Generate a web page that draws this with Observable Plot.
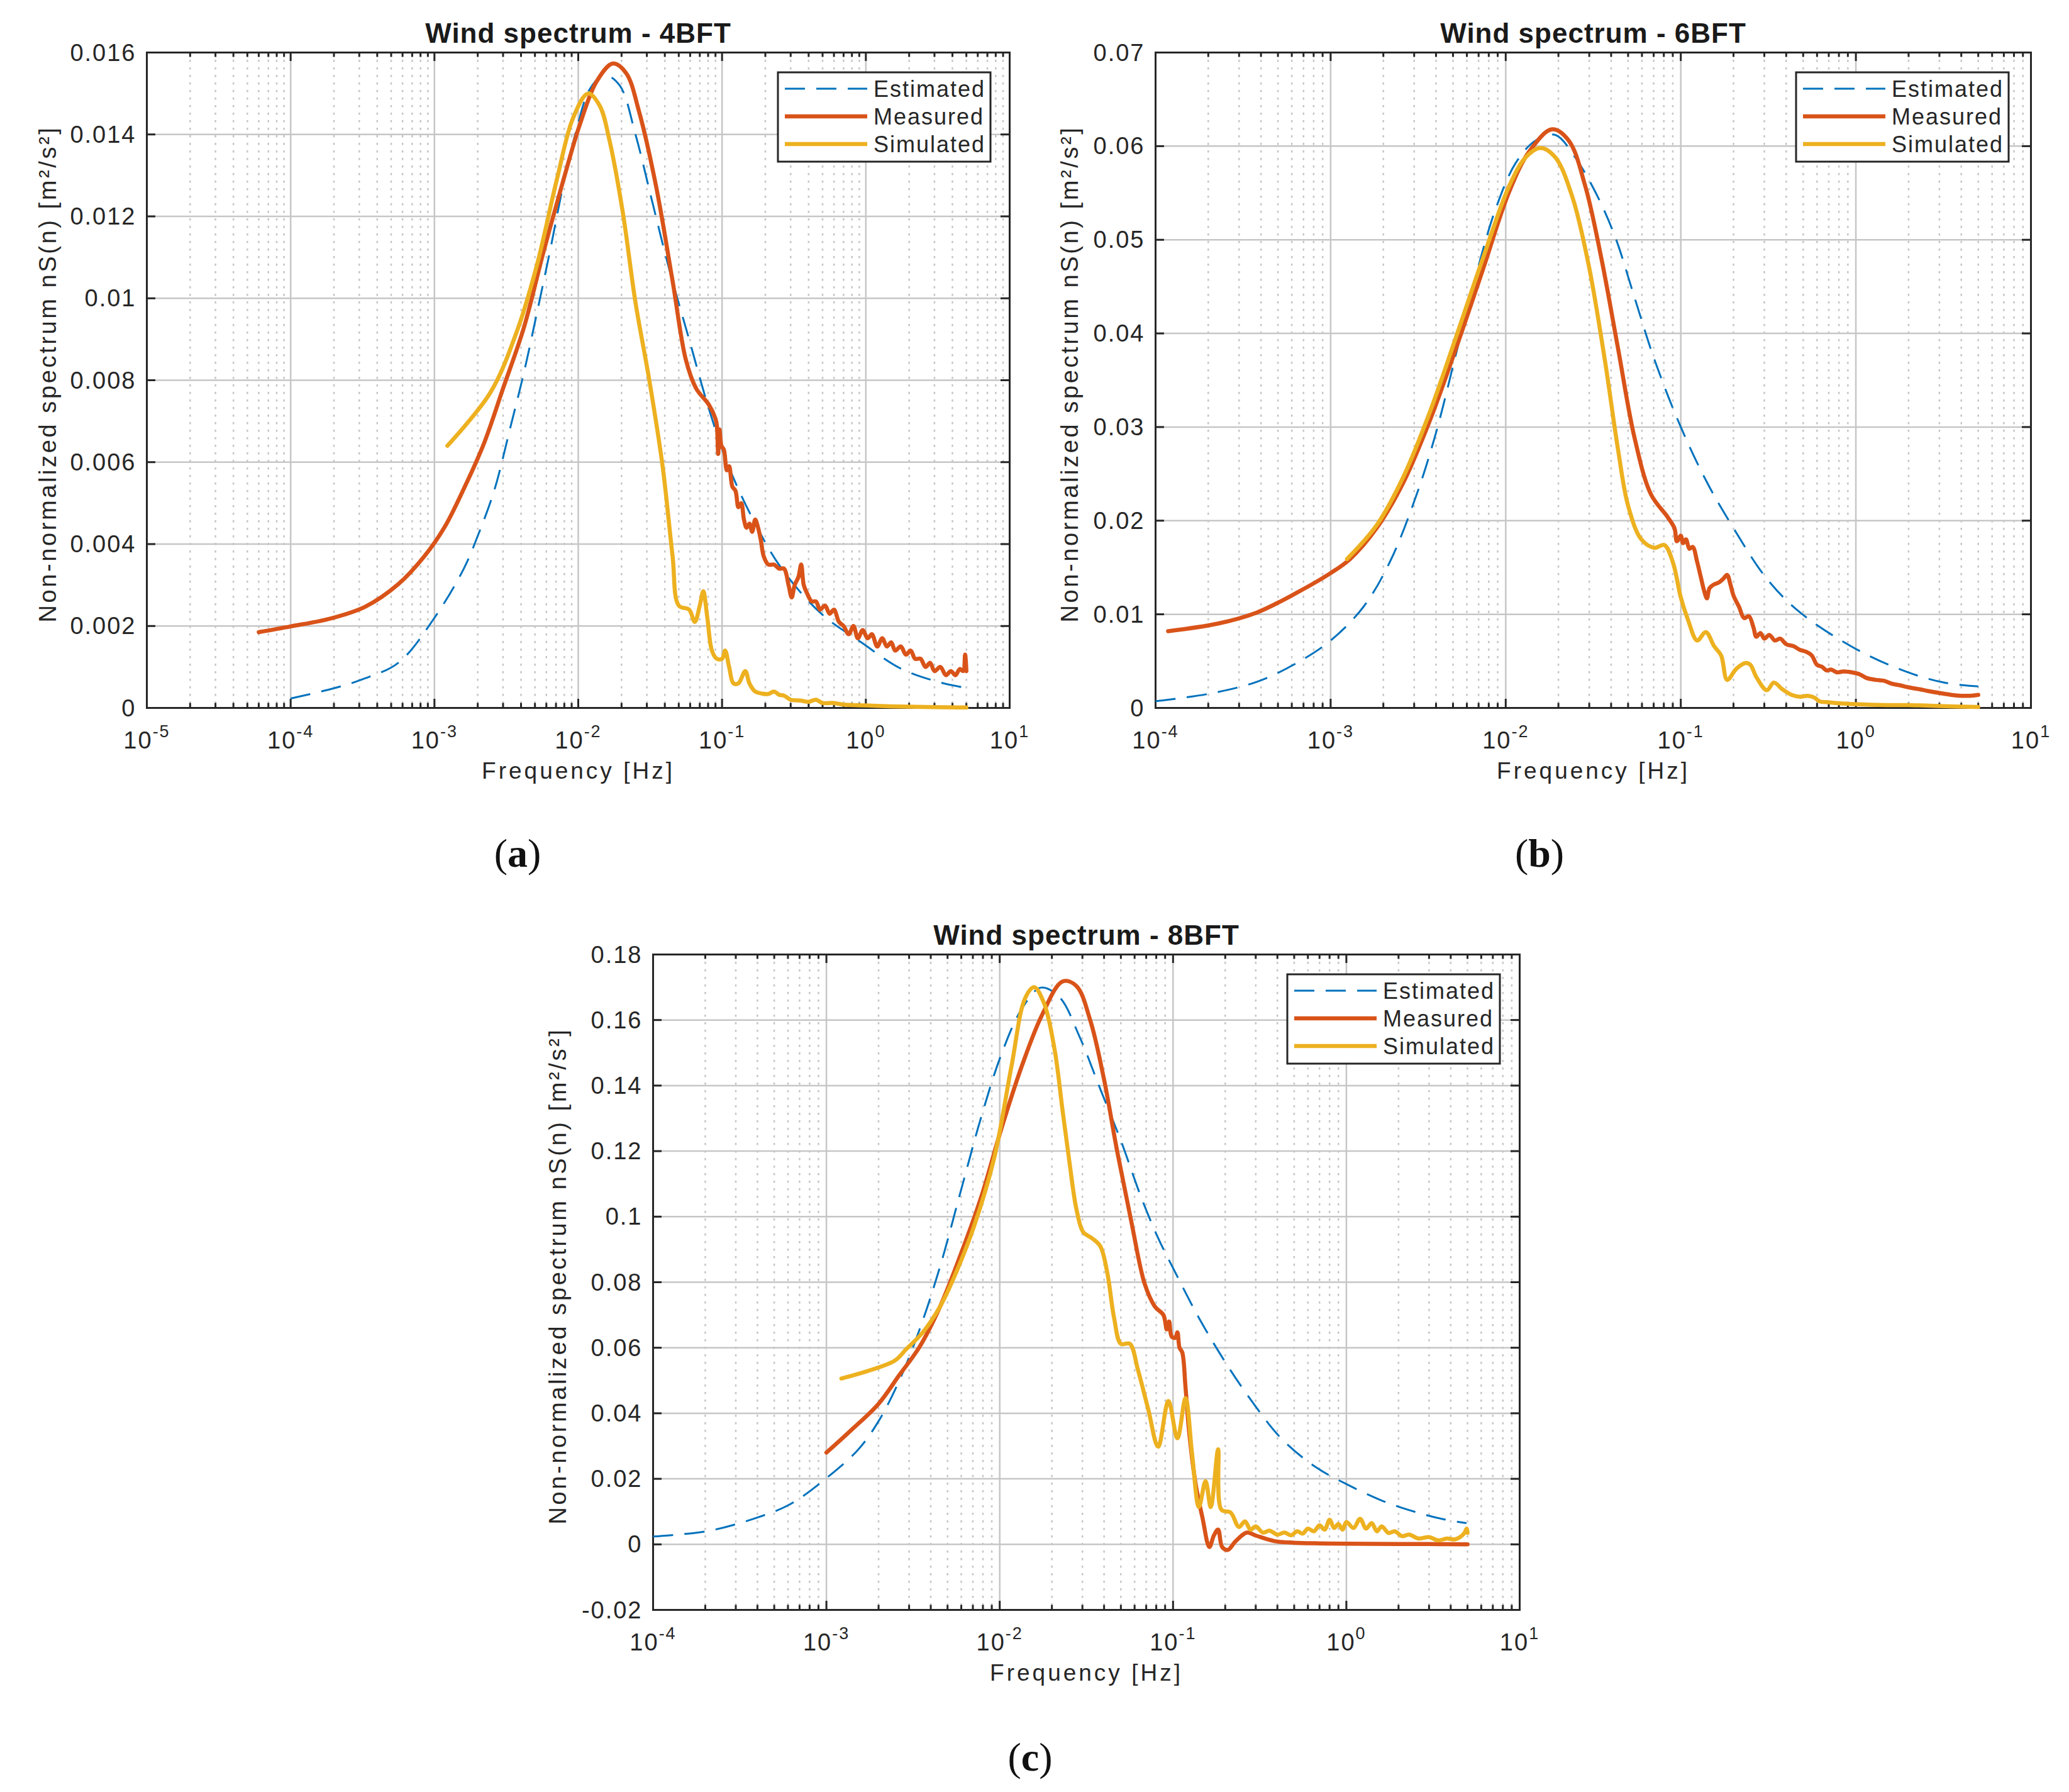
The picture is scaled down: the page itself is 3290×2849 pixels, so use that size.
<!DOCTYPE html>
<html><head><meta charset="utf-8">
<script src="https://cdn.jsdelivr.net/npm/d3@7"></script>
<script src="https://cdn.jsdelivr.net/npm/@observablehq/plot@0.6"></script>
<style>
html,body{margin:0;padding:0;background:#fff;}
#page{position:relative;width:3290px;height:2849px;overflow:hidden;background:#fff;font-family:"Liberation Sans",Arial,sans-serif;}
.panel{position:absolute;}
#overlay{position:absolute;left:0;top:0;}
</style></head><body><div id="page"></div>
<script>
// ---------------- DATA ----------------
const seriesNames = ["Estimated", "Measured", "Simulated"];
const titles = ["Wind spectrum - 4BFT", "Wind spectrum - 6BFT", "Wind spectrum - 8BFT"];
const captions = ["a", "b", "c"];
const xLabel = "Frequency [Hz]";
const yLabel = "Non-normalized spectrum nS(n) [m²/s²]";

const xTicksA = [1e-5, 1e-4, 1e-3, 1e-2, 1e-1, 1e0, 1e1];
const xTicksBC = [1e-4, 1e-3, 1e-2, 1e-1, 1e0, 1e1];
const yTicksA = [0, 0.002, 0.004, 0.006, 0.008, 0.01, 0.012, 0.014, 0.016];
const yTicksB = [0, 0.01, 0.02, 0.03, 0.04, 0.05, 0.06, 0.07];
const yTicksC = [-0.02, 0, 0.02, 0.04, 0.06, 0.08, 0.1, 0.12, 0.14, 0.16, 0.18];

// Panel (a) 4BFT  [frequency Hz, nS(n)]
const estimatedA = [[1e-4,0.00023],[2e-4,0.00048],[3.1e-4,0.00069],[5.6e-4,0.0011],[1e-3,0.0022],[1.6e-3,0.0034],[2e-3,0.0042],[2.6e-3,0.0053],[3.4e-3,0.0069],[4.2e-3,0.0082],[5.2e-3,0.0097],[6.4e-3,0.0112],[7.9e-3,0.0128],[9.7e-3,0.0141],[0.012,0.0151],[0.0152,0.01545],[0.0194,0.0152],[0.025,0.0140],[0.033,0.0123],[0.043,0.0107],[0.059,0.0090],[0.081,0.0073],[0.111,0.0059],[0.17,0.0045],[0.26,0.0034],[0.49,0.0023],[0.93,0.0016],[1.75,0.00096],[3.3,0.00062],[5,0.00049]];
const measuredA = [[6e-5,0.00185],[1e-4,0.00199],[1.93e-4,0.00219],[3.3e-4,0.00247],[5.6e-4,0.00302],[8.5e-4,0.0037],[1.17e-3,0.0044],[1.6e-3,0.00535],[2.2e-3,0.00644],[3e-3,0.0078],[4.2e-3,0.0093],[5.7e-3,0.0111],[7.9e-3,0.0129],[0.0103,0.01426],[0.0134,0.01529],[0.0174,0.01573],[0.0215,0.0155],[0.0266,0.01453],[0.0347,0.01275],[0.0453,0.01042],[0.056,0.0085],[0.066,0.0078],[0.081,0.0074],[0.09,0.00706],[0.092,0.0069],[0.094,0.0062],[0.096,0.0068],[0.099,0.0064],[0.103,0.0063],[0.108,0.0058],[0.112,0.0059],[0.118,0.0054],[0.124,0.0053],[0.13,0.0049],[0.136,0.0050],[0.142,0.0046],[0.148,0.0044],[0.155,0.0045],[0.162,0.0043],[0.17,0.0046],[0.178,0.0044],[0.186,0.0041],[0.195,0.0037],[0.21,0.0035],[0.23,0.0035],[0.25,0.0034],[0.27,0.0034],[0.29,0.0030],[0.305,0.0027],[0.32,0.0030],[0.34,0.0032],[0.355,0.0035],[0.37,0.0030],[0.39,0.0028],[0.42,0.0026],[0.45,0.0026],[0.48,0.0024],[0.52,0.0025],[0.56,0.0023],[0.6,0.0024],[0.65,0.0021],[0.7,0.0020],[0.76,0.0018],[0.82,0.0020],[0.88,0.0017],[0.95,0.0019],[1.03,0.0017],[1.1,0.0018],[1.2,0.0015],[1.3,0.0017],[1.4,0.0015],[1.5,0.0016],[1.6,0.0014],[1.75,0.0015],[1.9,0.0013],[2.05,0.0014],[2.2,0.0012],[2.4,0.0012],[2.6,0.0010],[2.8,0.0011],[3.0,0.0009],[3.3,0.0010],[3.6,0.0008],[3.9,0.0009],[4.2,0.0008],[4.5,0.00095],[4.75,0.0009],[4.9,0.0013],[5.0,0.0009]];
const simulatedA = [[1.23e-3,0.0064],[2.45e-3,0.0077],[3.75e-3,0.0092],[5.15e-3,0.0108],[7.1e-3,0.0129],[9.2e-3,0.0144],[0.0117,0.0150],[0.0141,0.0147],[0.0165,0.01385],[0.0204,0.0121],[0.025,0.0099],[0.0312,0.0080],[0.0386,0.0059],[0.0453,0.0037],[0.05,0.0025],[0.059,0.0024],[0.0646,0.0021],[0.07,0.0025],[0.074,0.00285],[0.079,0.0022],[0.085,0.0014],[0.092,0.0012],[0.1,0.0012],[0.105,0.0014],[0.112,0.0010],[0.12,0.0006],[0.13,0.0006],[0.145,0.0009],[0.155,0.0006],[0.17,0.0004],[0.19,0.00035],[0.21,0.00034],[0.23,0.0004],[0.25,0.00032],[0.27,0.0003],[0.3,0.0002],[0.35,0.00018],[0.4,0.00015],[0.45,0.0002],[0.5,0.00012],[0.6,0.00012],[0.7,0.00008],[1.0,0.00006],[1.5,0.00004],[2.0,0.00003],[3.0,0.00002],[5.0,0.00001]];

// Panel (b) 6BFT
const estimatedB = [[1e-4,0.00072],[2e-4,0.0015],[3.8e-4,0.0028],[6.4e-4,0.0048],[1e-3,0.0072],[1.54e-3,0.0108],[2.18e-3,0.0156],[3.1e-3,0.0228],[4e-3,0.0294],[5.2e-3,0.0378],[6.76e-3,0.0462],[8.8e-3,0.0534],[0.0114,0.0582],[0.0148,0.0606],[0.0192,0.0612],[0.0249,0.0588],[0.0323,0.0552],[0.042,0.0504],[0.0545,0.0438],[0.0707,0.0372],[0.1,0.030],[0.142,0.024],[0.2,0.0192],[0.31,0.0138],[0.48,0.0102],[1.0,0.0063],[1.92,0.0039],[3.2,0.0027],[5.0,0.0023]];
const measuredB = [[1.18e-4,0.0082],[2.26e-4,0.0090],[3.8e-4,0.0102],[6.4e-4,0.0123],[1e-3,0.0144],[1.29e-3,0.0159],[1.83e-3,0.0192],[2.59e-3,0.024],[3.67e-3,0.0306],[5.2e-3,0.0384],[7.4e-3,0.0468],[0.0105,0.0552],[0.0136,0.0594],[0.0184,0.0618],[0.0229,0.0606],[0.0284,0.0558],[0.0352,0.048],[0.0438,0.0384],[0.0545,0.0288],[0.0676,0.0228],[0.084,0.0204],[0.092,0.0192],[0.095,0.0178],[0.1,0.0184],[0.103,0.0176],[0.107,0.0180],[0.112,0.0170],[0.117,0.0172],[0.124,0.0156],[0.13,0.0140],[0.136,0.0125],[0.141,0.0117],[0.146,0.0128],[0.155,0.0132],[0.165,0.0134],[0.175,0.0138],[0.184,0.0142],[0.192,0.0132],[0.2,0.0120],[0.215,0.0108],[0.23,0.0096],[0.245,0.0098],[0.26,0.0086],[0.27,0.0076],[0.285,0.0080],[0.3,0.0074],[0.32,0.0078],[0.345,0.0072],[0.37,0.0074],[0.4,0.0068],[0.44,0.0066],[0.48,0.0062],[0.52,0.0060],[0.56,0.0056],[0.6,0.0046],[0.64,0.0044],[0.68,0.0040],[0.72,0.0041],[0.78,0.0038],[0.85,0.0039],[0.95,0.0038],[1.05,0.0036],[1.15,0.0032],[1.3,0.0030],[1.45,0.0029],[1.6,0.0026],[1.8,0.0024],[2.0,0.0022],[2.3,0.0020],[2.6,0.0018],[3.0,0.0016],[3.5,0.0014],[4.0,0.0013],[4.5,0.0013],[5.0,0.0014]];
const simulatedB = [[1.24e-3,0.0159],[1.83e-3,0.0195],[2.59e-3,0.0246],[3.67e-3,0.0315],[5.2e-3,0.0396],[7.4e-3,0.048],[0.0105,0.0558],[0.013,0.0588],[0.0158,0.0598],[0.0192,0.0588],[0.024,0.0546],[0.0297,0.0474],[0.0368,0.0372],[0.0438,0.0276],[0.05,0.0216],[0.0595,0.018],[0.0707,0.0171],[0.0805,0.0174],[0.09,0.0156],[0.1,0.0118],[0.11,0.0094],[0.124,0.0072],[0.139,0.0081],[0.155,0.0066],[0.17,0.0056],[0.184,0.0030],[0.208,0.0042],[0.235,0.0048],[0.25,0.0046],[0.27,0.0033],[0.31,0.0019],[0.34,0.0027],[0.38,0.0020],[0.43,0.0014],[0.48,0.0012],[0.53,0.0013],[0.58,0.0011],[0.62,0.0007],[0.7,0.0006],[0.8,0.0005],[1.0,0.0004],[1.5,0.0003],[2.0,0.0003],[3.0,0.0002],[5.0,0.0001]];

// Panel (c) 8BFT
const estimatedC = [[1e-4,0.0024],[2.08e-4,0.0041],[3.9e-4,0.008],[6.2e-4,0.0123],[1e-3,0.0202],[1.53e-3,0.029],[2e-3,0.0376],[2.63e-3,0.0499],[3.45e-3,0.0656],[4.53e-3,0.0848],[5.94e-3,0.1075],[7.8e-3,0.1302],[0.0102,0.1494],[0.0134,0.1634],[0.0173,0.1699],[0.0221,0.167],[0.029,0.1547],[0.038,0.139],[0.05,0.1232],[0.0656,0.1058],[0.082,0.0935],[0.103,0.083],[0.141,0.0691],[0.203,0.0551],[0.292,0.0429],[0.42,0.0324],[0.66,0.0237],[1.0,0.0184],[1.63,0.0132],[2.57,0.0097],[3.69,0.0076],[4.93,0.0065]];
const measuredC = [[1e-3,0.028],[1.4e-3,0.035],[2e-3,0.0429],[2.63e-3,0.0516],[3.45e-3,0.0603],[4.53e-3,0.0726],[5.94e-3,0.0883],[7.8e-3,0.1058],[0.0102,0.1267],[0.0134,0.1459],[0.0176,0.1617],[0.0231,0.1718],[0.0277,0.1704],[0.0333,0.1599],[0.0398,0.1424],[0.0477,0.1197],[0.0573,0.0988],[0.0686,0.0795],[0.0785,0.0726],[0.088,0.070],[0.092,0.0656],[0.095,0.068],[0.098,0.0635],[0.103,0.063],[0.106,0.0647],[0.109,0.060],[0.113,0.0586],[0.118,0.048],[0.124,0.0341],[0.135,0.0184],[0.148,0.008],[0.162,-0.0008],[0.172,0.0027],[0.182,0.0045],[0.192,-0.0008],[0.207,-0.0017],[0.23,0.001],[0.267,0.0036],[0.3,0.0027],[0.384,0.001],[0.5,0.0005],[0.7,0.0003],[1.0,0.0002],[2.0,0.0001],[3.0,0.0001],[5.0,0.0]];
const simulatedC = [[1.22e-3,0.0506],[2.47e-3,0.056],[2.88e-3,0.0595],[3.6e-3,0.0647],[4.53e-3,0.0726],[5.43e-3,0.0813],[7.1e-3,0.097],[9.3e-3,0.118],[0.0117,0.146],[0.014,0.1666],[0.0158,0.170],[0.018,0.1652],[0.0207,0.1512],[0.0231,0.132],[0.0253,0.1163],[0.0277,0.1023],[0.0303,0.0953],[0.0339,0.0935],[0.038,0.091],[0.0417,0.083],[0.0457,0.0691],[0.05,0.0612],[0.0563,0.0612],[0.0627,0.0533],[0.072,0.0411],[0.082,0.0298],[0.094,0.0437],[0.106,0.0324],[0.118,0.0446],[0.129,0.0272],[0.141,0.0114],[0.154,0.0193],[0.165,0.0114],[0.182,0.029],[0.19,0.0106],[0.215,0.0097],[0.24,0.0053],[0.26,0.007],[0.28,0.0045],[0.3,0.0055],[0.33,0.0036],[0.36,0.0042],[0.4,0.003],[0.44,0.0036],[0.48,0.0028],[0.52,0.004],[0.56,0.0033],[0.6,0.0048],[0.65,0.004],[0.7,0.0058],[0.75,0.0045],[0.8,0.0075],[0.85,0.005],[0.9,0.0062],[0.95,0.0045],[1.0,0.0068],[1.1,0.005],[1.2,0.0078],[1.3,0.0048],[1.4,0.0065],[1.5,0.004],[1.6,0.0055],[1.75,0.0035],[1.9,0.004],[2.1,0.0025],[2.3,0.003],[2.6,0.0018],[3.0,0.0022],[3.4,0.0012],[3.8,0.0018],[4.2,0.0015],[4.6,0.0025],[4.8,0.0035],[4.95,0.0048],[5.0,0.0035]];

// ---------------- STYLE ----------------
const INK = "#262626", GRID = "#c6c6c6";
const COLORS = ["#0072BD", "#D95319", "#EDB120"];
const FONT = "'Liberation Sans', Arial, Helvetica, sans-serif";

function minorTicks(lo, hi) { const out = []; for (let e = lo; e < hi; e++) for (let k = 2; k <= 9; k++) out.push(k * Math.pow(10, e)); return out; }
function fmtY(d) { return d === 0 ? "0" : String(+d.toFixed(4)); }

const page = document.getElementById("page");

function makePanel(cfg) {
  const {left, top, width, height, mt, mr, mb, ml, xDomain, yDomain, xTicks, yTicks, minors, title, est, meas, sim, ylabDx} = cfg;
  const fw = width - ml - mr, fh = height - mt - mb;
  const X = d => d[0], Y = d => d[1];
  const chart = Plot.plot({
    width, height, marginTop: mt, marginRight: mr, marginBottom: mb, marginLeft: ml,
    style: {fontFamily: FONT, background: "transparent", overflow: "visible"},
    x: {type: "log", domain: xDomain, axis: null},
    y: {domain: yDomain, axis: null},
    marks: [
      Plot.ruleX(minors, {x: d => d, stroke: GRID, strokeWidth: 2.5, strokeDasharray: "3.5,8.5"}),
      Plot.ruleX(xTicks, {x: d => d, stroke: GRID, strokeWidth: 2.5}),
      Plot.ruleY(yTicks, {y: d => d, stroke: GRID, strokeWidth: 2.5}),
      Plot.ruleX(xTicks, {x: d => d, stroke: INK, strokeWidth: 3, insetTop: fh - 14}),
      Plot.ruleX(xTicks, {x: d => d, stroke: INK, strokeWidth: 3, insetBottom: fh - 14}),
      Plot.ruleX(minors, {x: d => d, stroke: INK, strokeWidth: 3, insetTop: fh - 7.5}),
      Plot.ruleX(minors, {x: d => d, stroke: INK, strokeWidth: 3, insetBottom: fh - 7.5}),
      Plot.ruleY(yTicks, {y: d => d, stroke: INK, strokeWidth: 3, insetRight: fw - 14}),
      Plot.ruleY(yTicks, {y: d => d, stroke: INK, strokeWidth: 3, insetLeft: fw - 14}),
      Plot.frame({stroke: INK, strokeWidth: 3}),
      Plot.text(yTicks, {y: d => d, frameAnchor: "left", dx: -17, dy: 13, textAnchor: "end", lineAnchor: "bottom", text: fmtY, fontSize: 38, fill: INK}),
      Plot.text(xTicks, {x: d => d, frameAnchor: "bottom", dy: 64, textAnchor: "middle", lineAnchor: "bottom", text: d => "10|" + Math.round(Math.log10(d)), fontSize: 38, fill: INK}),
      Plot.text([xLabel], {frameAnchor: "bottom", dy: 112, textAnchor: "middle", lineAnchor: "bottom", fontSize: 37, fill: INK}),
      Plot.text([yLabel], {frameAnchor: "left", dx: ylabDx, dy: -10, rotate: -90, textAnchor: "middle", lineAnchor: "bottom", fontSize: 38, fill: INK}),
      Plot.text([title], {frameAnchor: "top", dy: -16, textAnchor: "middle", lineAnchor: "bottom", fontSize: 44, fontWeight: "bold", fill: "#1a1a1a"}),
      Plot.line(est, {x: X, y: Y, stroke: COLORS[0], strokeWidth: 3, strokeDasharray: "32,18", strokeLinecap: "butt", curve: "catmull-rom"}),
      Plot.line(meas, {x: X, y: Y, stroke: COLORS[1], strokeWidth: 6.5, curve: "catmull-rom"}),
      Plot.line(sim, {x: X, y: Y, stroke: COLORS[2], strokeWidth: 6.5, curve: "catmull-rom"})
    ]
  });
  const ns = "http://www.w3.org/2000/svg";
  chart.querySelectorAll("text").forEach(t => {
    const s = t.textContent;
    if (s.includes("|")) {
      const [base, exp] = s.split("|");
      t.textContent = "";
      const a = document.createElementNS(ns, "tspan"); a.textContent = base;
      const b = document.createElementNS(ns, "tspan"); b.textContent = exp;
      b.setAttribute("dy", "-18"); b.setAttribute("font-size", "27");
      t.append(a, b);
      t.setAttribute("letter-spacing", "2");
    } else if (s === xLabel) t.setAttribute("letter-spacing", "4");
    else if (s === yLabel) t.setAttribute("letter-spacing", "3.6");
    else if (s.startsWith("Wind")) t.setAttribute("letter-spacing", "1");
    else if (/^-?[\d.]+$/.test(s)) t.setAttribute("letter-spacing", "2");
  });
  const div = document.createElement("div");
  div.className = "panel";
  div.style.left = left + "px"; div.style.top = top + "px";
  div.style.width = width + "px"; div.style.height = height + "px";
  div.appendChild(chart);
  page.appendChild(div);
}

makePanel({left: 0, top: 0, width: 1640, height: 1300, mt: 83, mr: 35, mb: 175, ml: 233,
  xDomain: [1e-5, 1e1], yDomain: [0, 0.016], xTicks: xTicksA, yTicks: yTicksA, minors: minorTicks(-5, 1),
  title: titles[0], est: estimatedA, meas: measuredA, sim: simulatedA, ylabDx: -145});
makePanel({left: 1640, top: 0, width: 1650, height: 1300, mt: 83, mr: 61, mb: 175, ml: 197,
  xDomain: [1e-4, 1e1], yDomain: [0, 0.07], xTicks: xTicksBC, yTicks: yTicksB, minors: minorTicks(-4, 1),
  title: titles[1], est: estimatedB, meas: measuredB, sim: simulatedB, ylabDx: -124});
makePanel({left: 800, top: 1430, width: 1700, height: 1300, mt: 87, mr: 84, mb: 171, ml: 238,
  xDomain: [1e-4, 1e1], yDomain: [-0.02, 0.18], xTicks: xTicksBC, yTicks: yTicksC, minors: minorTicks(-4, 1),
  title: titles[2], est: estimatedC, meas: measuredC, sim: simulatedC, ylabDx: -139});

// ---------------- OVERLAY: legends and captions ----------------
const svg = d3.select(page).append("svg").attr("id", "overlay").attr("width", 3290).attr("height", 2849)
  .style("font-family", FONT);
const legends = [[1237, 115], [2856, 115], [2047, 1549]];
legends.forEach(([lx, ly]) => {
  const g = svg.append("g");
  g.append("rect").attr("x", lx).attr("y", ly).attr("width", 338).attr("height", 142)
    .attr("fill", "#fff").attr("stroke", INK).attr("stroke-width", 3);
  seriesNames.forEach((name, i) => {
    const cy = ly + 26 + i * 44;
    g.append("line").attr("x1", lx + 11).attr("x2", lx + 142).attr("y1", cy).attr("y2", cy)
      .attr("stroke", COLORS[i]).attr("stroke-width", i === 0 ? 3 : 6.5)
      .attr("stroke-dasharray", i === 0 ? "32,18" : null);
    g.append("text").attr("x", lx + 152).attr("y", cy + 13).attr("font-size", 36)
      .attr("letter-spacing", 2).attr("fill", INK).text(name);
  });
});
const capPos = [[823, 1378], [2448, 1378], [1638, 2815]];
capPos.forEach(([cx, cy], i) => {
  const t = svg.append("text").attr("x", cx).attr("y", cy).attr("text-anchor", "middle")
    .attr("font-family", "'Liberation Serif', 'Times New Roman', serif").attr("font-size", 64).attr("fill", "#111");
  t.append("tspan").text("(");
  t.append("tspan").attr("font-weight", "bold").text(captions[i]);
  t.append("tspan").text(")");
});
</script>
</body></html>
